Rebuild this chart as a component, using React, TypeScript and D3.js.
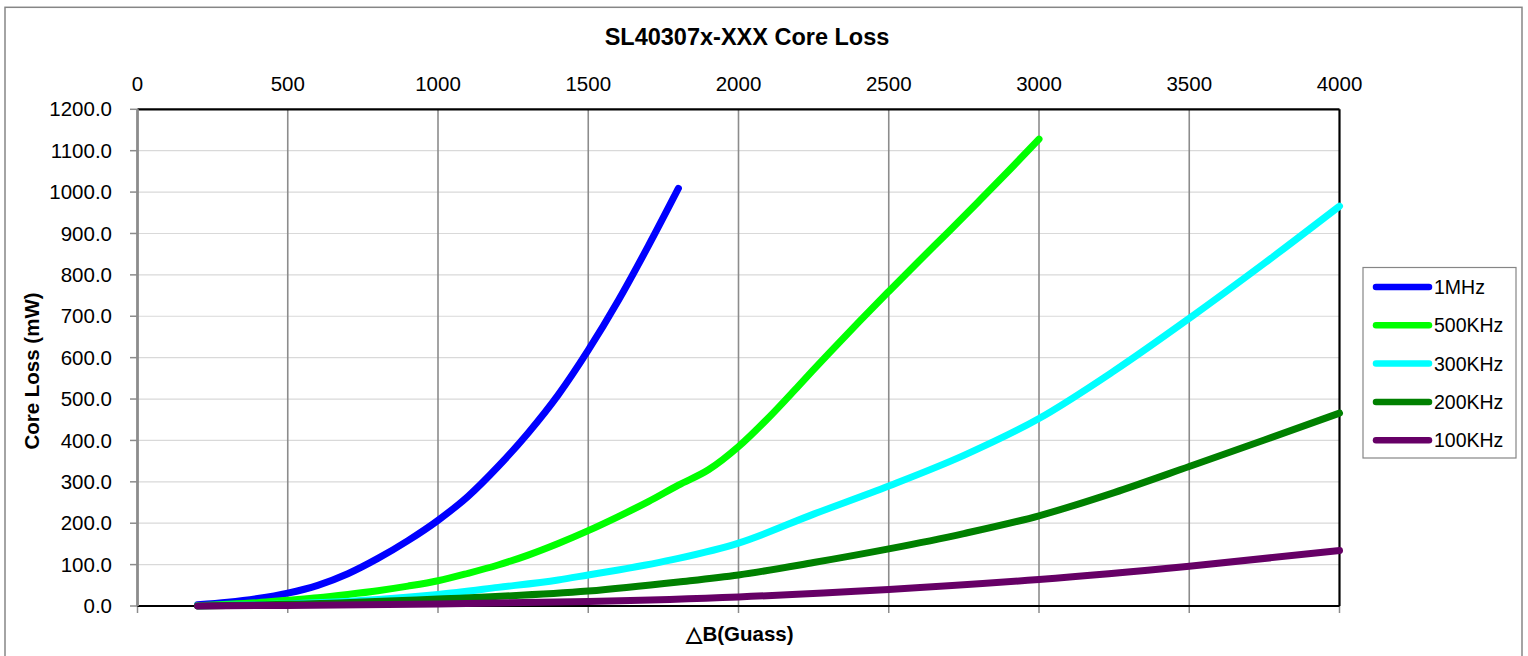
import * as d3 from 'd3'

// 1MHz
const b1M = [200, 300, 400, 500, 600, 700, 800, 900, 1000, 1100, 1200, 1300, 1400, 1500, 1600, 1700, 1800]
const loss1M = [3, 9, 18, 31, 50, 78, 115, 158, 207, 265, 337, 418, 510, 618, 738, 870, 1009]

// 500KHz
const b500K = [200, 300, 400, 500, 600, 700, 800, 900, 1000, 1100, 1200, 1300, 1400, 1500, 1600, 1700, 1800, 1900, 2000, 2100, 2200, 2300, 2400, 2500, 2600, 2700, 2800, 2900, 3000]
const loss500K = [1, 4, 8, 14, 20, 28, 37, 48, 61, 79, 99, 123, 151, 182, 216, 252, 292, 329, 385, 455, 532, 610, 686, 760, 833, 905, 978, 1052, 1128]

// 300KHz
const b300K = [200, 400, 600, 800, 1000, 1200, 1400, 1500, 1600, 1800, 2000, 2250, 2500, 2750, 3000, 3250, 3500, 3750, 4000]
const loss300K = [0.5, 3, 8, 16, 28, 45, 63, 75, 87, 115, 152, 222, 290, 364, 453, 568, 695, 828, 966]

// 200KHz
const b200K = [200, 500, 1000, 1500, 1800, 2000, 2250, 2500, 2750, 3000, 3250, 3500, 3750, 4000]
const loss200K = [0.3, 4, 17, 36, 58, 75, 105, 138, 175, 218, 274, 337, 401, 466]

// 100KHz
const b100K = [200, 500, 1000, 1500, 2000, 2500, 3000, 3500, 4000]
const loss100K = [0.1, 1.5, 5, 11, 22, 40, 64, 96, 134]

const seriesNames = ['1MHz', '500KHz', '300KHz', '200KHz', '100KHz']
const seriesColors = ['#0000ff', '#00ff00', '#00ffff', '#008000', '#660066']
const seriesB = [b1M, b500K, b300K, b200K, b100K]
const seriesLoss = [loss1M, loss500K, loss300K, loss200K, loss100K]

const FONT = '"Liberation Sans", Arial, sans-serif'

export default function App() {
  const width = 1528
  const height = 656
  const left = 137.5, right = 1339.5, top = 109.3, bottom = 606

  const x = d3.scaleLinear().domain([0, 4000]).range([left, right])
  const y = d3.scaleLinear().domain([0, 1200]).range([bottom, top])

  const line = d3.line<[number, number]>()
    .x(d => x(d[0]))
    .y(d => y(d[1]))
    .curve(d3.curveMonotoneX)

  const xTicks = d3.range(0, 4001, 500)
  const yTicks = d3.range(0, 1201, 100)

  return (
    <svg width={width} height={height} style={{ position: 'absolute', left: 0, top: 0 }} fontFamily={FONT}>
      <rect x={0} y={0} width={width} height={height} fill="#fff" />
      {/* chart border */}
      <rect x={5} y={7.3} width={1517} height={660} fill="none" stroke="#868686" strokeWidth={1.5} />

      <text x={747} y={45} textAnchor="middle" fontSize={23.5} fontWeight="bold">SL40307x-XXX Core Loss</text>

      {/* horizontal grid */}
      {yTicks.filter(t => t > 0 && t < 1200).map(t => (
        <line key={'hg' + t} x1={left} x2={right} y1={y(t)} y2={y(t)} stroke="#d9d9d9" strokeWidth={1.2} />
      ))}
      {/* vertical grid */}
      {xTicks.filter(t => t > 0 && t < 4000).map(t => (
        <line key={'vg' + t} x1={x(t)} x2={x(t)} y1={top} y2={bottom} stroke="#8c8c8c" strokeWidth={1.6} />
      ))}

      {/* y ticks + labels */}
      {yTicks.map(t => (
        <g key={'yt' + t}>
          <line x1={130} x2={left} y1={y(t)} y2={y(t)} stroke="#8c8c8c" strokeWidth={1.5} />
          <text x={112} y={y(t)} dy="0.35em" textAnchor="end" fontSize={20.5}>{t.toFixed(1)}</text>
        </g>
      ))}
      {/* x ticks bottom, labels top */}
      {xTicks.map(t => (
        <g key={'xt' + t}>
          <line x1={x(t)} x2={x(t)} y1={bottom} y2={613} stroke="#8c8c8c" strokeWidth={1.5} />
          <text x={x(t)} y={91} textAnchor="middle" fontSize={20.5}>{t}</text>
        </g>
      ))}

      {/* plot frame */}
      <line x1={left} x2={right} y1={top} y2={top} stroke="#000" strokeWidth={2.2} />
      <line x1={right} x2={right} y1={top} y2={bottom} stroke="#000" strokeWidth={2.2} />
      <line x1={left} x2={right} y1={bottom} y2={bottom} stroke="#000" strokeWidth={2.2} />
      <line x1={left} x2={left} y1={top} y2={bottom} stroke="#8c8c8c" strokeWidth={2.8} />

      {/* series */}
      {seriesNames.map((name, i) => {
        const pts = seriesB[i].map((b, j) => [b, seriesLoss[i][j]] as [number, number])
        return (
          <path key={name} d={line(pts) || ''} fill="none" stroke={seriesColors[i]}
            strokeWidth={7} strokeLinecap="round" strokeLinejoin="round" />
        )
      })}

      {/* axis titles */}
      <text x={740} y={641} textAnchor="middle" fontSize={20.5} fontWeight="bold">△B(Guass)</text>
      <text transform="translate(39,371) rotate(-90)" textAnchor="middle" fontSize={20.5} fontWeight="bold">Core Loss (mW)</text>

      {/* legend */}
      <rect x={1363} y={267.5} width={153} height={190.5} fill="#fff" stroke="#868686" strokeWidth={1.2} />
      {seriesNames.map((name, i) => {
        const ly = 287 + i * 38.3
        return (
          <g key={'lg' + name}>
            <line x1={1376} x2={1429} y1={ly} y2={ly} stroke={seriesColors[i]} strokeWidth={6.5} strokeLinecap="round" />
            <text x={1434} y={ly} dy="0.36em" fontSize={19.5}>{name}</text>
          </g>
        )
      })}
    </svg>
  )
}
